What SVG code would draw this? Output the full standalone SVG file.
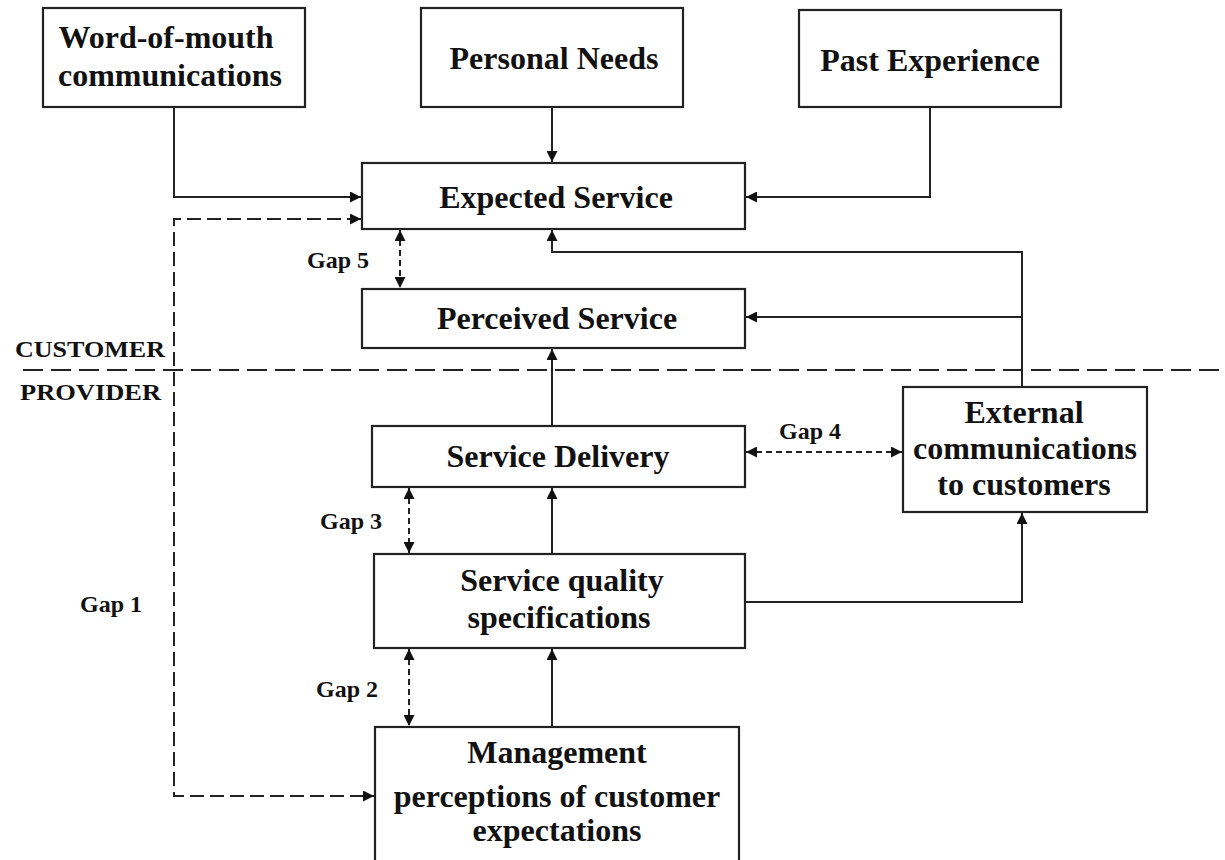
<svg xmlns="http://www.w3.org/2000/svg" width="1225" height="860" viewBox="0 0 1225 860">
<defs>
<style>
.box{fill:#fff;stroke:#222;stroke-width:2.2}
.t{font-family:"Liberation Serif",serif;font-weight:bold;font-size:32px;fill:#111;text-anchor:middle}
.g{font-family:"Liberation Serif",serif;font-weight:bold;font-size:24px;fill:#111}
.c{fill:none;stroke:#222;stroke-width:2}
.d{fill:none;stroke:#222;stroke-width:2;stroke-dasharray:14 6}
.ds{fill:none;stroke:#222;stroke-width:2;stroke-dasharray:6 4}
.sep{fill:none;stroke:#222;stroke-width:2;stroke-dasharray:20 8}
</style>
<marker id="ah" viewBox="0 0 10 10" refX="10" refY="5" markerWidth="11" markerHeight="11" markerUnits="userSpaceOnUse" orient="auto-start-reverse">
<path d="M0,0 L10,5 L0,10 z" fill="#111"/>
</marker>
</defs>
<rect width="1225" height="860" fill="#fff"/>

<g id="connectors">
<path class="c" d="M174,107 V197 H361" marker-end="url(#ah)"/>
<path class="c" d="M552,107 V162" marker-end="url(#ah)"/>
<path class="c" d="M930,107 V197 H746" marker-end="url(#ah)"/>
<path class="c" d="M1022,387 V252 H552 V230" marker-end="url(#ah)"/>
<path class="c" d="M1022,317 H746" marker-end="url(#ah)"/>
<path class="c" d="M552,426 V349" marker-end="url(#ah)"/>
<path class="c" d="M552,554 V488" marker-end="url(#ah)"/>
<path class="c" d="M552,727 V649" marker-end="url(#ah)"/>
<path class="c" d="M746,602 H1022 V513" marker-end="url(#ah)"/>
<path class="d" d="M361,219 H174 V796 H374" marker-start="url(#ah)" marker-end="url(#ah)"/>
<path class="ds" d="M400,230 V288" marker-start="url(#ah)" marker-end="url(#ah)"/>
<path class="ds" d="M409,488 V553" marker-start="url(#ah)" marker-end="url(#ah)"/>
<path class="ds" d="M409,649 V726" marker-start="url(#ah)" marker-end="url(#ah)"/>
<path class="ds" d="M746,452 H902" marker-start="url(#ah)" marker-end="url(#ah)"/>
<path class="sep" d="M23,370 H1225"/>
</g>

<g id="labels">
<text class="g" x="15" y="357" textLength="150" lengthAdjust="spacingAndGlyphs">CUSTOMER</text>
<text class="g" x="20" y="400" textLength="141" lengthAdjust="spacingAndGlyphs">PROVIDER</text>
<text class="g" x="307" y="268">Gap 5</text>
<text class="g" x="779" y="439">Gap 4</text>
<text class="g" x="320" y="529">Gap 3</text>
<text class="g" x="316" y="697">Gap 2</text>
<text class="g" x="80" y="612">Gap 1</text>
</g>

<g id="word-of-mouth">
<rect class="box" x="43" y="8" width="262" height="99"/>
<text class="t" x="166" y="48">Word-of-mouth</text>
<text class="t" x="170" y="86">communications</text>
</g>
<g id="personal-needs">
<rect class="box" x="421" y="8" width="262" height="99"/>
<text class="t" x="554" y="69">Personal Needs</text>
</g>
<g id="past-experience">
<rect class="box" x="799" y="10" width="262" height="97"/>
<text class="t" x="930" y="71">Past Experience</text>
</g>
<g id="expected-service">
<rect class="box" x="362" y="163" width="383" height="66"/>
<text class="t" x="556" y="208">Expected Service</text>
</g>
<g id="perceived-service">
<rect class="box" x="362" y="289" width="383" height="59"/>
<text class="t" x="557" y="329">Perceived Service</text>
</g>
<g id="service-delivery">
<rect class="box" x="372" y="426" width="373" height="61"/>
<text class="t" x="558" y="467">Service Delivery</text>
</g>
<g id="service-quality-specifications">
<rect class="box" x="374" y="554" width="371" height="94"/>
<text class="t" x="562" y="591">Service quality</text>
<text class="t" x="559" y="628">specifications</text>
</g>
<g id="external-communications">
<rect class="box" x="903" y="387" width="244" height="125"/>
<text class="t" x="1024" y="423">External</text>
<text class="t" x="1025" y="459">communications</text>
<text class="t" x="1024" y="495">to customers</text>
</g>
<g id="management-perceptions">
<rect class="box" x="375" y="727" width="364" height="150"/>
<text class="t" x="557" y="763">Management</text>
<text class="t" x="557" y="807">perceptions of customer</text>
<text class="t" x="557" y="841">expectations</text>
</g>
</svg>
